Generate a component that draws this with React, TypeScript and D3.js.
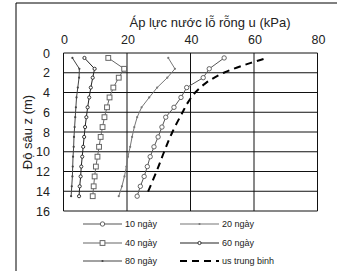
import React from 'react';
import * as d3 from 'd3';

const width = 337;
const height = 271;

// depth of the measuring points (m)
const depth = [0.5, 1.6, 2.5, 3.5, 4.5, 5.5, 6.5, 7.5, 8.5, 9.5, 10.5, 11.5, 12.5, 13.5, 14.5];

// pore pressure u (kPa) per series
const u10 = [50.6, 45.9, 44.0, 38.8, 37.0, 34.8, 32.2, 31.0, 29.8, 28.5, 27.3, 26.4, 25.4, 24.2, 23.2];
const u20 = [33.0, 35.1, 32.7, 29.5, 27.0, 24.6, 23.2, 22.3, 21.6, 21.0, 20.3, 19.8, 19.2, 18.4, 17.4];
const u40 = [14.1, 19.1, 17.4, 15.7, 14.5, 13.7, 12.9, 12.3, 11.7, 11.2, 10.7, 10.2, 9.8, 9.5, 9.2];
const u60 = [6.6, 9.8, 9.2, 8.6, 8.1, 7.6, 7.2, 6.8, 6.5, 6.2, 5.9, 5.6, 5.4, 5.1, 4.9];
const u80 = [2.8, 5.0, 4.9, 4.5, 4.1, 3.9, 3.7, 3.5, 3.3, 3.2, 3.0, 2.9, 2.8, 2.6, 2.4];

// average hydrostatic-like curve (us trung binh)
const avgDepth = [0.6, 1.0, 2.0, 3.0, 4.0, 5.0, 6.0, 8.0, 10.0, 12.0, 14.5];
const avgU = [63, 59, 50.5, 45, 41.5, 39.2, 37.5, 34.3, 31.7, 29.3, 26];

const xTicks = [0, 20, 40, 60, 80];
const yTicks = [0, 2, 4, 6, 8, 10, 12, 14, 16];

const series = [
  { name: '10 ngày', values: u10, color: '#555', marker: 'circle', r: 2.2 },
  { name: '20 ngày', values: u20, color: '#777', marker: 'dot', r: 1.1 },
  { name: '40 ngày', values: u40, color: '#666', marker: 'square', r: 2.4 },
  { name: '60 ngày', values: u60, color: '#222', marker: 'circle', r: 1.6 },
  { name: '80 ngày', values: u80, color: '#444', marker: 'dot', r: 1.1 },
];

const x = d3.scaleLinear().domain([0, 80]).range([63.5, 317.5]);
const y = d3.scaleLinear().domain([0, 16]).range([53, 211]);

const Marker = ({ type, cx, cy, r, color }: any) => {
  if (type === 'square')
    return <rect x={cx - r} y={cy - r} width={r * 2} height={r * 2} fill="#fff" stroke={color} strokeWidth={1} />;
  if (type === 'circle')
    return <circle cx={cx} cy={cy} r={r} fill="#fff" stroke={color} strokeWidth={0.9} />;
  return <circle cx={cx} cy={cy} r={r} fill={color} />;
};

const App = () => {
  const line = d3.line<number>()
    .x(d => d)
    .y((_, i) => 0);

  const seriesPath = (vals: number[]) =>
    d3.line<number>().x(d => x(d)).y((_, i) => y(depth[i]))(vals) as string;

  const avgPath = d3.line<number>()
    .x(d => x(d))
    .y((_, i) => y(avgDepth[i]))
    .curve(d3.curveCatmullRom)(avgU) as string;

  const legendRows = [224, 243, 261];
  const legendCols = [83, 180];

  return (
    <svg width={width} height={height} style={{ position: 'absolute', left: 0, top: 0, background: '#fff' }}
      fontFamily="'Liberation Sans', Arial, sans-serif">
      <line x1={16} y1={3} x2={width} y2={3} stroke="#000" />
      <line x1={16} y1={3} x2={16} y2={height} stroke="#000" />

      {/* grid */}
      {yTicks.map(t => (
        <line key={'gy' + t} x1={x(0)} x2={x(80)} y1={y(t)} y2={y(t)} stroke="#111" strokeWidth={1} />
      ))}
      {xTicks.map(t => (
        <line key={'gx' + t} x1={x(t)} x2={x(t)} y1={y(0)} y2={y(16)} stroke="#111" strokeWidth={1} />
      ))}

      {/* tick labels */}
      {xTicks.map(t => (
        <text key={'tx' + t} x={x(t) + 1} y={44} fontSize={12.5} textAnchor="middle" fill="#222">{t}</text>
      ))}
      {yTicks.map(t => (
        <text key={'ty' + t} x={50} y={y(t) + 4.5} fontSize={12.5} textAnchor="end" fill="#222">{t}</text>
      ))}

      <text x={210} y={27} fontSize={13} textAnchor="middle" fill="#222">Áp lực nước lỗ rỗng u (kPa)</text>
      <text transform="translate(32,132) rotate(-90)" fontSize={13} textAnchor="middle" fill="#222">Độ sâu z (m)</text>

      {/* series */}
      {series.map(s => (
        <g key={s.name}>
          <path d={seriesPath(s.values)} fill="none" stroke={s.color} strokeWidth={1} />
          {s.values.map((v, i) => (
            <Marker key={i} type={s.marker} cx={x(v)} cy={y(depth[i])} r={s.r} color={s.color} />
          ))}
        </g>
      ))}
      <path d={avgPath} fill="none" stroke="#000" strokeWidth={2} strokeDasharray="7,5" />

      {/* legend */}
      {series.map((s, i) => {
        const lx = legendCols[i % 2];
        const ly = legendRows[Math.floor(i / 2)];
        return (
          <g key={'lg' + s.name}>
            <line x1={lx} x2={lx + 39} y1={ly} y2={ly} stroke={s.color} strokeWidth={1.2} />
            <Marker type={s.marker} cx={lx + 19.5} cy={ly} r={s.r} color={s.color} />
            <text x={lx + 42} y={ly + 3} fontSize={9} fill="#222">{s.name}</text>
          </g>
        );
      })}
      <line x1={legendCols[1]} x2={legendCols[1] + 39} y1={legendRows[2]} y2={legendRows[2]}
        stroke="#000" strokeWidth={2} strokeDasharray="7,5" />
      <text x={legendCols[1] + 42} y={legendRows[2] + 3} fontSize={9} fill="#222">us trung binh</text>
    </svg>
  );
};

export default App;
